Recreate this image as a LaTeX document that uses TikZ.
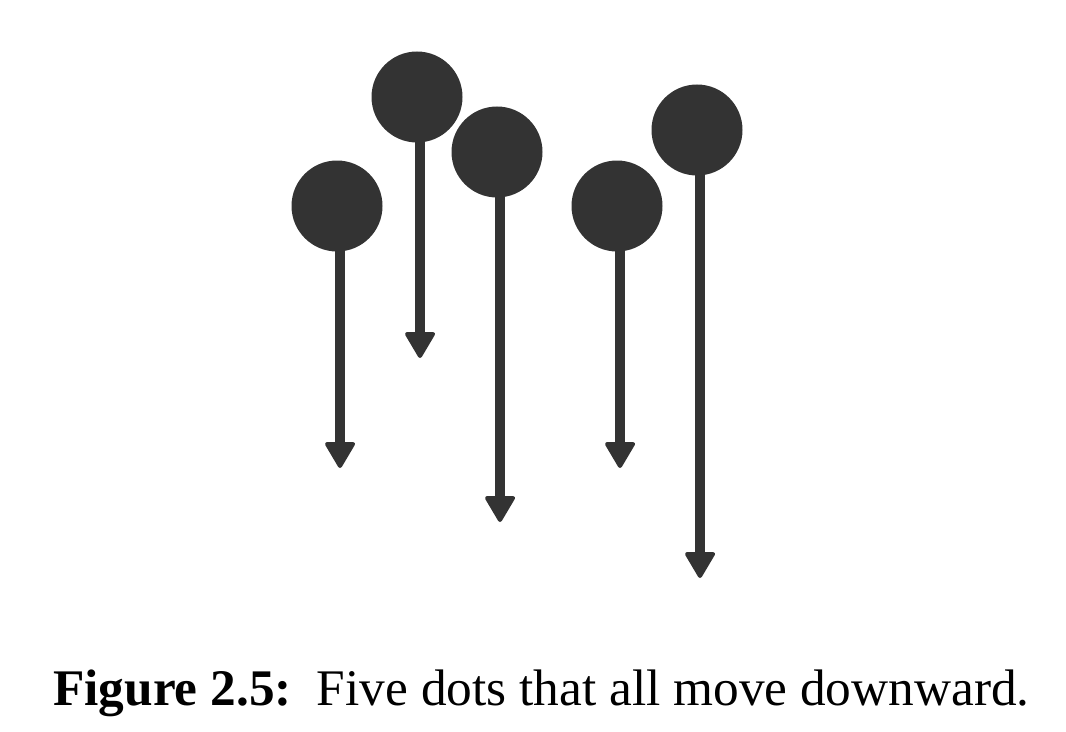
\documentclass[tikz,border=0pt]{standalone}
\usepackage{fontspec}
\setmainfont{Liberation Serif}
\usetikzlibrary{arrows.meta}
\definecolor{dotgray}{HTML}{333333}
\tikzset{
  dot/.style={circle, fill=dotgray, draw=none, minimum size=68.25pt, inner sep=0pt},
  mover/.style={draw=dotgray, line width=7.5pt, -{Triangle[width=24pt, length=21pt, round, line width=3pt]}},
}
\begin{document}
\begin{tikzpicture}[x=0.75pt, y=-0.75pt]
\useasboundingbox (0,0) rectangle (1066,731);
% arrows end points
\coordinate (e1) at (340,468);
\coordinate (e2) at (420,358);
\coordinate (e3) at (500,522);
\coordinate (e4) at (620,468);
\coordinate (e5) at (700,578);
% dots
\node[dot] (d1) at (337,206) {};
\node[dot] (d2) at (417,97) {};
\node[dot] (d3) at (497,152) {};
\node[dot] (d4) at (617,206) {};
\node[dot] (d5) at (697,130) {};
% arrows
\foreach \i in {1,...,5}{
  \draw[mover] ([yshift=4pt]e\i |- d\i.south) -- (e\i);
}
% caption
\node[anchor=base west, inner sep=0pt, font=\fontsize{38.5}{44}\selectfont] (cap) at (53,705)
  {\textbf{Figure 2.5:}\hspace{6pt} Five dots that all move downward.};
\end{tikzpicture}
\end{document}
